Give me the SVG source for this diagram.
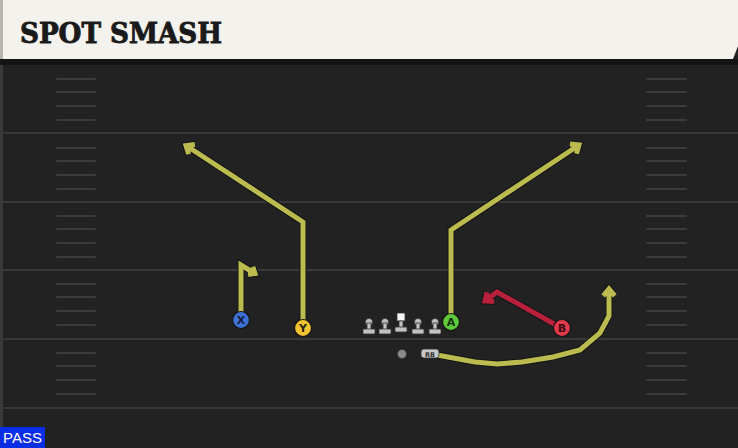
<svg xmlns="http://www.w3.org/2000/svg" width="738" height="448" viewBox="0 0 738 448">
<style>
.yard{stroke:#393939;stroke-width:2}
.hash{stroke:#3b3b3b;stroke-width:2;stroke-linecap:round}
.rt-o{fill:none;stroke:#141414;stroke-width:7;stroke-linejoin:miter}
.rt-y{fill:none;stroke:#bcbb50;stroke-width:5;stroke-linejoin:miter}
.rt-r{fill:none;stroke:#b8203c;stroke-width:5;stroke-linejoin:miter}
.lbl{font-family:"DejaVu Sans","Liberation Sans",sans-serif;font-weight:bold;font-size:11px;text-anchor:middle}
.ol{fill:#c2c2c2;stroke:#333;stroke-width:0.8}
</style>
<rect width="738" height="448" fill="#222222"/>
<rect x="0" y="60" width="3" height="388" fill="#3a3a3a"/>
<g id="field">
<line class="yard" x1="0" y1="133" x2="738" y2="133"/>
<line class="yard" x1="0" y1="202" x2="738" y2="202"/>
<line class="yard" x1="0" y1="270" x2="738" y2="270"/>
<line class="yard" x1="0" y1="339" x2="738" y2="339"/>
<line class="yard" x1="0" y1="408" x2="738" y2="408"/>
<g id="hashes">
<path class="hash" d="M57,79H95M57,92H95M57,106H95M57,120H95M57,148H95M57,161H95M57,175H95M57,189H95M57,216H95M57,229H95M57,243H95M57,257H95M57,284H95M57,297H95M57,311H95M57,325H95M57,353H95M57,366H95M57,380H95M57,394H95"/>
<path class="hash" d="M647,79H686M647,92H686M647,106H686M647,120H686M647,148H686M647,161H686M647,175H686M647,189H686M647,216H686M647,229H686M647,243H686M647,257H686M647,284H686M647,297H686M647,311H686M647,325H686M647,353H686M647,366H686M647,380H686M647,394H686"/>
</g>
</g>
<g id="header">
<rect x="0" y="59" width="738" height="6" fill="#141414"/>
<path d="M0,0 H738 V46 L733,59 H0 Z" fill="#f4f2ec"/>
<rect x="0" y="0" width="3" height="59" fill="#b8b6b0"/>
<text x="20" y="43" font-family="'DejaVu Serif','Liberation Serif',serif" font-weight="bold" font-size="27" textLength="202" lengthAdjust="spacingAndGlyphs" fill="#1a1a1a" stroke="#1a1a1a" stroke-width="0.9">SPOT SMASH</text>
</g>
<g id="connectors">
<path class="rt-o" d="M241,318 V265 L255,273.5 M252.75,266.9 L255,273.5 L248.1,274.6"/>
<path class="rt-y" d="M241,318 V265 L255,273.5 M252.75,266.9 L255,273.5 L248.1,274.6"/>
<path class="rt-o" d="M303,326 V222 L186,145.5 M188.6,154.1 L186,145.5 L194.9,144.4"/>
<path class="rt-y" d="M303,326 V222 L186,145.5 M188.6,154.1 L186,145.5 L194.9,144.4"/>
<path class="rt-o" d="M451,320 V230 L579,145 M570,144 L579,145 L576.5,153.6"/>
<path class="rt-y" d="M451,320 V230 L579,145 M570,144 L579,145 L576.5,153.6"/>
<path class="rt-o" d="M556,325 L497,292 L485,301 M494,301.5 L485,301 L487,292.2"/>
<path class="rt-r" d="M556,325 L497,292 L485,301 M494,301.5 L485,301 L487,292.2"/>
<path class="rt-o" d="M437,355 L475,362 L497,364 L522,362 L553,357 L580,350 L600,333 L609,316 V289 M603.2,295.9 L609,289 L614.8,295.9"/>
<path class="rt-y" d="M437,355 L475,362 L497,364 L522,362 L553,357 L580,350 L600,333 L609,316 V289 M603.2,295.9 L609,289 L614.8,295.9"/>
</g>
<g id="line">
<g id="lt"><circle class="ol" cx="369" cy="322" r="3.6"/><rect class="ol" x="367" y="323" width="4" height="7"/><rect class="ol" x="363" y="329" width="12" height="5" rx="1"/></g>
<g id="lg"><circle class="ol" cx="385" cy="322" r="3.6"/><rect class="ol" x="383" y="323" width="4" height="7"/><rect class="ol" x="379" y="329" width="12" height="5" rx="1"/></g>
<g id="c"><rect x="397" y="313" width="8" height="8" fill="#f4f4f4" stroke="#333" stroke-width="0.8"/><rect class="ol" x="399" y="321" width="4" height="7"/><rect class="ol" x="395" y="327" width="12" height="5" rx="1"/></g>
<g id="rg"><circle class="ol" cx="418" cy="322" r="3.6"/><rect class="ol" x="416" y="323" width="4" height="7"/><rect class="ol" x="412" y="329" width="12" height="5" rx="1"/></g>
<g id="rt"><circle class="ol" cx="435" cy="322" r="3.6"/><rect class="ol" x="433" y="323" width="4" height="7"/><rect class="ol" x="429" y="329" width="12" height="5" rx="1"/></g>
</g>
<g id="qb"><circle cx="402" cy="354" r="4.5" fill="#8a8a8a" stroke="#333" stroke-width="0.8"/></g>
<g id="rb"><rect x="421" y="349" width="18" height="9" rx="3" fill="#c8c8c8" stroke="#333" stroke-width="0.8"/><text x="430" y="356.5" font-family="'DejaVu Sans',sans-serif" font-weight="bold" font-size="6.5" text-anchor="middle" fill="#333">RB</text></g>
<g id="X"><circle cx="241" cy="320" r="8.5" fill="#3e71d6" stroke="#141414" stroke-width="1.2"/><text class="lbl" x="241" y="324" fill="#142040">X</text></g>
<g id="Y"><circle cx="303" cy="328" r="8.5" fill="#f2c530" stroke="#141414" stroke-width="1.2"/><text class="lbl" x="303" y="332" fill="#2a2410">Y</text></g>
<g id="A"><circle cx="451" cy="322" r="8.5" fill="#5ec83a" stroke="#141414" stroke-width="1.2"/><text class="lbl" x="451" y="326" fill="#143010">A</text></g>
<g id="B"><circle cx="562" cy="328" r="8.5" fill="#e23a4c" stroke="#141414" stroke-width="1.2"/><text class="lbl" x="562" y="332" fill="#3a0a12">B</text></g>
<g id="pass"><rect x="0" y="427" width="45" height="21" fill="#0a2ee6"/><text x="22.5" y="443" font-family="'Liberation Sans',sans-serif" font-size="15" text-anchor="middle" fill="#ffffff">PASS</text></g>
</svg>
